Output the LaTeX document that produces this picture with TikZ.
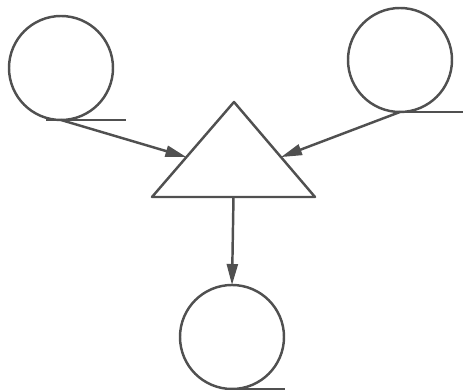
\documentclass[tikz,border=0pt]{standalone}
\usetikzlibrary{arrows.meta, calc}
\definecolor{inkgray}{RGB}{80,80,80}
\tikzset{
	loopcirc/.style={circle, draw=inkgray, minimum size=2.08cm, inner sep=0pt, outer sep=0pt}
}
\tikzset{
	flow/.style={draw=inkgray, -{Triangle[length=4.2mm, width=2.2mm]}}
}

\begin{document}
\begin{tikzpicture}[line width=1.4pt]
      \useasboundingbox (0,0) rectangle (9.26,7.8);
      % the three circles
      \node[loopcirc] (src1) at (1.22,6.44) {};
      \node[loopcirc] (src2) at (8.0,6.6) {};
      \node[loopcirc] (sink) at (4.64,1.06) {};
      % tails
      \draw[inkgray] ([xshift=-3mm]src1.south) -- ([xshift=13mm]src1.south);
      \draw[inkgray] (src2.south) -- ++(1.26,0);
      \draw[inkgray] (sink.south) -- ++(1.05,0);
      % triangle
      \coordinate (tl) at (3.04,3.86);
      \coordinate (tr) at (6.3,3.86);
      \coordinate (top) at (4.68,5.76);
      \draw[inkgray, line join=round] (tl) -- (top) -- (tr) -- cycle;
      \coordinate (inL) at ($(tl)!0.42!(top)$);
      \coordinate (inR) at ($(tr)!0.42!(top)$);
      \coordinate (out) at ($(tl)!0.5!(tr)$);
      % connectors
      \draw[flow] (src1.south) -- (inL);
      \draw[flow] (src2.south) -- (inR);
      \draw[flow] (out) -- (sink.north);
    \end{tikzpicture}
\end{document}
